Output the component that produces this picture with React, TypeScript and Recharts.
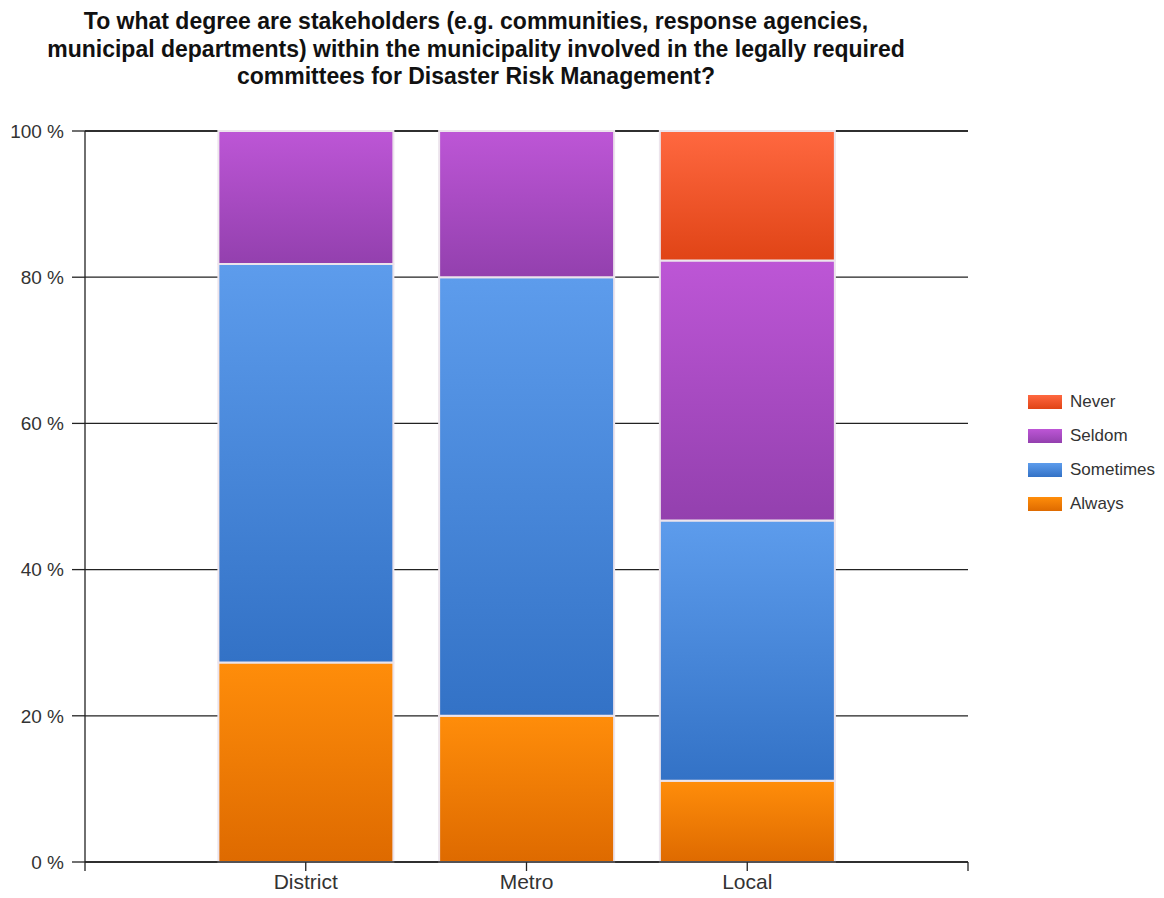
import React from "react";
import { BarChart, Bar, XAxis, YAxis, CartesianGrid } from "recharts";

// Share of responses per municipality type (percent of respondents)
const categories = ["District", "Metro", "Local"];
const categoryPositions = [1, 2, 3];
const always = [27.3, 20, 11.1];
const sometimes = [54.5, 60, 35.6];
const seldom = [18.2, 20, 35.6];
const never = [0, 0, 17.7];
const yTicks = [0, 20, 40, 60, 80, 100];
const xTicks = [0, 1, 2, 3, 4];

const title = [
  "To what degree are stakeholders (e.g. communities, response agencies,",
  "municipal departments) within the municipality involved in the legally required",
  "committees for Disaster Risk Management?",
];

const seriesDefs = [
  { key: "Always", id: "gAlways", top: "#ff8d0a", bottom: "#de6a00" },
  { key: "Sometimes", id: "gSometimes", top: "#5d9cec", bottom: "#3372c6" },
  { key: "Seldom", id: "gSeldom", top: "#bd56d6", bottom: "#9340ae" },
  { key: "Never", id: "gNever", top: "#ff6840", bottom: "#e04416" },
];

const data = categories.map((name, i) => ({
  name,
  pos: categoryPositions[i],
  Always: always[i],
  Sometimes: sometimes[i],
  Seldom: seldom[i],
  Never: never[i],
}));

const font = "Arial, 'Liberation Sans', sans-serif";

const LegendBox = () => (
  <div
    style={{
      position: "absolute",
      left: 1028,
      top: 385,
      fontFamily: font,
      fontSize: 17,
      color: "#333",
    }}
  >
    {[...seriesDefs].reverse().map((s) => (
      <div key={s.key} style={{ display: "flex", alignItems: "center", height: 34 }}>
        <div
          style={{
            width: 34,
            height: 14,
            background: `linear-gradient(${s.top}, ${s.bottom})`,
            marginRight: 8,
          }}
        />
        <span>{s.key}</span>
      </div>
    ))}
  </div>
);

export default function App() {
  return (
    <div
      style={{
        position: "absolute",
        left: 0,
        top: 0,
        width: 1164,
        height: 898,
        background: "#fff",
        fontFamily: font,
      }}
    >
      <div
        style={{
          position: "absolute",
          left: 0,
          width: 952,
          top: 8,
          textAlign: "center",
          fontWeight: "bold",
          fontSize: 23,
          lineHeight: "27.5px",
          color: "#111",
          whiteSpace: "nowrap",
        }}
      >
        {title.map((t) => (
          <div key={t}>{t}</div>
        ))}
      </div>
      <BarChart
        width={1164}
        height={898}
        data={data}
        margin={{ top: 131, right: 196, bottom: 0, left: 15 }}
        style={{ position: "absolute", left: 0, top: 0 }}
      >
        <defs>
          {seriesDefs.map((s) => (
            <linearGradient key={s.id} id={s.id} x1="0" y1="0" x2="0" y2="1">
              <stop offset="0%" stopColor={s.top} />
              <stop offset="100%" stopColor={s.bottom} />
            </linearGradient>
          ))}
        </defs>
        <CartesianGrid vertical={false} stroke="#222" strokeWidth={1.3} />
        <XAxis
          type="number"
          dataKey="pos"
          domain={[0, 4]}
          ticks={xTicks}
          interval={0}
          height={36}
          tickSize={9}
          tickMargin={3}
          tickFormatter={(v: number) => (v >= 1 && v <= 3 ? categories[v - 1] : "")}
          axisLine={{ stroke: "#222", strokeWidth: 1.3 }}
          tickLine={{ stroke: "#222", strokeWidth: 1.3 }}
          tick={{ fill: "#333", fontSize: 21, fontFamily: font }}
        />
        <YAxis
          type="number"
          domain={[0, 100]}
          ticks={yTicks}
          width={70}
          tickSize={13}
          tickMargin={8}
          tickFormatter={(v: number) => `${v} %`}
          axisLine={{ stroke: "#222", strokeWidth: 1.3 }}
          tickLine={{ stroke: "#222", strokeWidth: 1.3 }}
          tick={{ fill: "#333", fontSize: 19, fontFamily: font }}
        />
        {seriesDefs.map((s) => (
          <Bar
            key={s.key}
            dataKey={s.key}
            stackId="a"
            barSize={175}
            fill={`url(#${s.id})`}
            stroke="#ece4ec"
            strokeWidth={2}
            isAnimationActive={false}
          />
        ))}
      </BarChart>
      <LegendBox />
    </div>
  );
}
